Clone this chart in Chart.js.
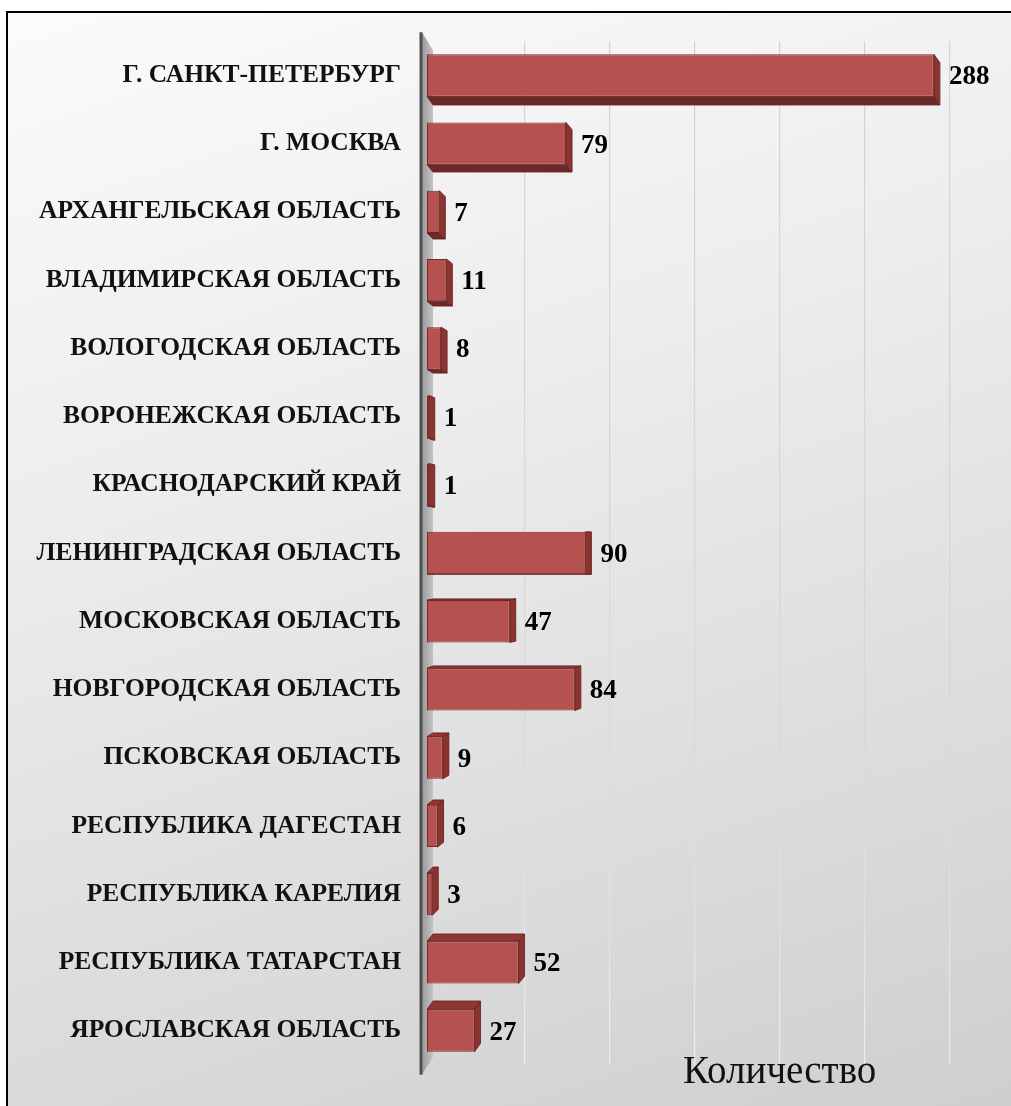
<!DOCTYPE html>
<html>
<head>
<meta charset="utf-8">
<script src="https://cdn.jsdelivr.net/npm/chart.js@4"></script>
<style>
  html, body { margin: 0; padding: 0; background: #ffffff; overflow: hidden; }
  #wrap { position: relative; width: 1011px; height: 1106px; overflow: hidden; }
  #frame {
    position: absolute; left: 6px; top: 11px; width: 1040px; height: 1130px;
    border-left: 2px solid #000; border-top: 2px solid #000;
    background: linear-gradient(162deg, #fbfbfb 0%, #ededed 35%, #dcdcdc 70%, #cdcdcd 100%);
  }
  #c { position: absolute; left: 0; top: 0; }
</style>
</head>
<body>
<div id="wrap">
  <div id="frame"></div>
  <canvas id="c" width="1011" height="1106"></canvas>
</div>
<script>
const categories = [
  "Г. САНКТ-ПЕТЕРБУРГ",
  "Г. МОСКВА",
  "АРХАНГЕЛЬСКАЯ ОБЛАСТЬ",
  "ВЛАДИМИРСКАЯ ОБЛАСТЬ",
  "ВОЛОГОДСКАЯ ОБЛАСТЬ",
  "ВОРОНЕЖСКАЯ ОБЛАСТЬ",
  "КРАСНОДАРСКИЙ КРАЙ",
  "ЛЕНИНГРАДСКАЯ ОБЛАСТЬ",
  "МОСКОВСКАЯ ОБЛАСТЬ",
  "НОВГОРОДСКАЯ ОБЛАСТЬ",
  "ПСКОВСКАЯ ОБЛАСТЬ",
  "РЕСПУБЛИКА ДАГЕСТАН",
  "РЕСПУБЛИКА КАРЕЛИЯ",
  "РЕСПУБЛИКА ТАТАРСТАН",
  "ЯРОСЛАВСКАЯ ОБЛАСТЬ"
];
const values = [288, 79, 7, 11, 8, 1, 1, 90, 47, 84, 9, 6, 3, 52, 27];
const seriesName = "Количество";
const axisMin = 0;
const axisMax = 300;
const gridValues = [50, 100, 150, 200, 250, 300];

const SERIF = "'Liberation Serif', 'Times New Roman', serif";

function frontGradient(ctx) {
  const chart = ctx.chart;
  const el = ctx.element;
  if (!el || !chart.chartArea) return '#b5524f';
  const p = el.getProps(['y', 'height'], true);
  if (!isFinite(p.y) || !isFinite(p.height)) return '#b5524f';
  const top = p.y - p.height / 2, bot = p.y + p.height / 2;
  const g = chart.ctx.createLinearGradient(0, top, 0, bot);
  g.addColorStop(0, '#c4625f');
  g.addColorStop(0.22, '#c86c69');
  g.addColorStop(0.26, '#b9524f');
  g.addColorStop(1, '#ab4a47');
  return g;
}

function gridGradient(ctx) {
  const chart = ctx.chart;
  const a = chart.chartArea;
  if (!a || !isFinite(a.top) || !isFinite(a.bottom)) return 'rgba(170,170,170,0.4)';
  const g = chart.ctx.createLinearGradient(0, a.top, 0, a.bottom);
  g.addColorStop(0, 'rgba(150,150,150,0.35)');
  g.addColorStop(0.5, 'rgba(190,190,190,0.35)');
  g.addColorStop(1, 'rgba(250,250,250,0.7)');
  return g;
}

const depthPlugin = {
  id: 'depth3d',
  beforeDatasetsDraw(chart) {
    const ctx = chart.ctx;
    const a = chart.chartArea;
    ctx.save();
    const wg = ctx.createLinearGradient(a.left - 5, 0, a.left + 6, 0);
    wg.addColorStop(0, '#9a9a9a');
    wg.addColorStop(1, '#c4c4c4');
    ctx.fillStyle = wg;
    ctx.beginPath();
    ctx.moveTo(a.left - 5, a.top - 9);
    ctx.lineTo(a.left + 6, a.top + 9);
    ctx.lineTo(a.left + 6, a.bottom - 8);
    ctx.lineTo(a.left - 5, a.bottom + 10);
    ctx.closePath();
    ctx.fill();
    ctx.strokeStyle = '#505050';
    ctx.lineWidth = 3;
    ctx.beginPath();
    ctx.moveTo(a.left - 6, a.top - 9);
    ctx.lineTo(a.left - 6, a.bottom + 10);
    ctx.stroke();
    ctx.restore();
  },
  afterDatasetsDraw(chart) {
    const ctx = chart.ctx;
    const a = chart.chartArea;
    const meta = chart.getDatasetMeta(0);
    const midY = (a.top + a.bottom) / 2;
    const half = (a.bottom - a.top) / 2;
    ctx.save();
    meta.data.forEach((bar, i) => {
      const p = bar.getProps(['x', 'y', 'base', 'height'], true);
      const x0 = p.base, x1 = p.x;
      const y0 = p.y - p.height / 2, y1 = p.y + p.height / 2;
      const dx = 6;
      const dy = -9 * (p.y - midY) / half;
      ctx.lineWidth = 1;
      ctx.strokeStyle = 'rgba(110,35,33,0.9)';
      ctx.beginPath();
      if (dy < 0) {
        ctx.moveTo(x0, y0); ctx.lineTo(x1, y0);
        ctx.lineTo(x1 + dx, y0 + dy); ctx.lineTo(x0 + dx, y0 + dy);
        ctx.fillStyle = '#8e3735';
      } else {
        ctx.moveTo(x0, y1); ctx.lineTo(x1, y1);
        ctx.lineTo(x1 + dx, y1 + dy); ctx.lineTo(x0 + dx, y1 + dy);
        ctx.fillStyle = '#6a2a28';
      }
      ctx.closePath();
      ctx.fill();
      ctx.stroke();
      ctx.beginPath();
      ctx.moveTo(x1, y0); ctx.lineTo(x1 + dx, y0 + dy);
      ctx.lineTo(x1 + dx, y1 + dy); ctx.lineTo(x1, y1);
      ctx.closePath();
      ctx.fillStyle = '#8a3432';
      ctx.fill();
      ctx.stroke();
      ctx.fillStyle = '#000';
      ctx.font = 'bold 27px ' + SERIF;
      ctx.textAlign = 'left';
      ctx.textBaseline = 'middle';
      ctx.fillText(String(values[i]), x1 + dx + 9, p.y + 2);
    });
    ctx.fillStyle = '#111';
    ctx.font = '39px ' + SERIF;
    ctx.textAlign = 'left';
    ctx.textBaseline = 'alphabetic';
    ctx.fillText(seriesName, 683, 1083);
    ctx.restore();
  }
};

new Chart(document.getElementById('c'), {
  type: 'bar',
  data: {
    labels: categories,
    datasets: [{
      label: seriesName,
      data: values,
      backgroundColor: frontGradient,
      borderColor: '#7a2927',
      borderWidth: 1,
      borderSkipped: false,
      barPercentage: 0.62,
      categoryPercentage: 1.0
    }]
  },
  options: {
    indexAxis: 'y',
    responsive: false,
    animation: false,
    devicePixelRatio: 1,
    layout: { padding: { top: 36, bottom: 35, right: 56, left: 0 } },
    plugins: { legend: { display: false }, tooltip: { enabled: false } },
    scales: {
      x: {
        min: axisMin, max: axisMax,
        ticks: { display: false, stepSize: 50 },
        grid: { display: false, drawTicks: false },
        border: { display: false },
        afterFit(s) { s.height = 0; }
      },
      x2: {
        type: 'linear', position: 'bottom',
        min: -7.6, max: 303,
        ticks: { display: false },
        afterBuildTicks(s) { s.ticks = gridValues.map(v => ({ value: v })); },
        grid: { color: gridGradient, lineWidth: 1.2, drawTicks: false },
        border: { display: false },
        afterFit(s) { s.height = 0; }
      },
      y: {
        ticks: {
          color: '#111',
          padding: 26,
          font: { family: SERIF, weight: 'bold', size: 25.5 }
        },
        grid: { display: false, drawTicks: false },
        border: { display: false },
        afterFit(s) { s.width = 427; }
      }
    }
  },
  plugins: [depthPlugin]
});
</script>
</body>
</html>
